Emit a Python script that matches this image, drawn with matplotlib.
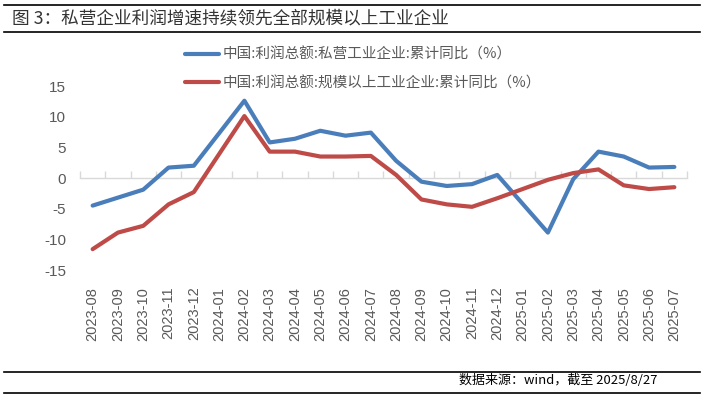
import matplotlib
matplotlib.use("Agg")
import matplotlib.pyplot as plt
from matplotlib.lines import Line2D
import numpy as np

plt.rcParams['font.family'] = ['Noto Sans CJK SC', 'DejaVu Sans']

months = ["2023-08", "2023-09", "2023-10", "2023-11", "2023-12", "2024-01",
          "2024-02", "2024-03", "2024-04", "2024-05", "2024-06", "2024-07",
          "2024-08", "2024-09", "2024-10", "2024-11", "2024-12", "2025-01",
          "2025-02", "2025-03", "2025-04", "2025-05", "2025-06", "2025-07"]
private_yoy = [-4.5, -3.2, -1.9, 1.7, 2.0, None,
               12.6, 5.8, 6.4, 7.7, 6.9, 7.4,
               2.8, -0.6, -1.3, -1.0, 0.5, None,
               -8.9, -0.2, 4.3, 3.5, 1.7, 1.8]
all_yoy = [-11.6, -8.9, -7.8, -4.3, -2.3, None,
           10.1, 4.3, 4.3, 3.5, 3.5, 3.6,
           0.5, -3.5, -4.3, -4.7, -3.3, None,
           -0.3, 0.8, 1.4, -1.2, -1.8, -1.5]
series_names = ["中国:利润总额:私营工业企业:累计同比（%）",
                "中国:利润总额:规模以上工业企业:累计同比（%）"]
colors = ["#4A7EBB", "#BE4B48"]
yticks = [-15, -10, -5, 0, 5, 10, 15]

title = "图 3：私营企业利润增速持续领先全部规模以上工业企业"
source = "数据来源：wind，截至 2025/8/27"

fig = plt.figure(figsize=(7.05, 3.98), dpi=100)
ax = fig.add_axes([80/705, 1-270/398, (687-80)/705, (270-86)/398])

n = len(months)
for vals, name, c in zip([private_yoy, all_yoy], series_names, colors):
    idx = [i for i, v in enumerate(vals) if v is not None]
    ys = [vals[i] for i in idx]
    ax.plot(idx, ys, color=c, lw=3.0, label=name, solid_capstyle='round',
            solid_joinstyle='round', zorder=3)

ax.set_xlim(-0.5, n - 0.5)
ax.set_ylim(-15, 15)
ax.set_yticks(yticks)
ax.set_yticklabels([str(t) for t in yticks], fontsize=11, color="#595959",
                   family=['Liberation Sans', 'DejaVu Sans'])
ax.tick_params(axis='y', length=0, pad=10)

for s in ['top', 'right', 'left']:
    ax.spines[s].set_visible(False)

# zero line with category boundary ticks
ax.spines['bottom'].set_position(('data', 0))
ax.spines['bottom'].set_color("#D9D9D9")
ax.spines['bottom'].set_linewidth(1.0)
ax.spines['bottom'].set_zorder(1)
ax.set_xticks(np.arange(n + 1) - 0.5)
ax.set_xticklabels([])
ax.tick_params(axis='x', direction='in', length=5, color="#D9D9D9", width=1.0)

# category labels at the bottom
lab = ax.secondary_xaxis('bottom')
lab.set_xticks(range(n))
lab.set_xticklabels(months, rotation=90, fontsize=10.5, color="#595959",
                    family=['Liberation Sans', 'DejaVu Sans'])
lab.tick_params(axis='x', length=0, pad=12)
for s in lab.spines.values():
    s.set_visible(False)

leg = fig.legend(loc='center', bbox_to_anchor=(363/705, 1-69/398), ncol=1,
                 frameon=False, fontsize=10.5, handlelength=2.3,
                 handletextpad=0.25, labelspacing=0.95, borderaxespad=0)
for t in leg.get_texts():
    t.set_color("#595959")

# header / footer rules and texts
for yy in [5, 32, 372, 393]:
    fig.add_artist(Line2D([4/705, 700/705], [1-yy/398, 1-yy/398],
                          transform=fig.transFigure, color='black', lw=1.2))
fig.text(12/705, 1-18/398, title, fontsize=12.7, color="#333333",
         ha='left', va='center')
fig.text(657/705, 1-381/398, source, fontsize=9.4, color="black",
         ha='right', va='center')

fig.savefig("out.png", dpi=100)
